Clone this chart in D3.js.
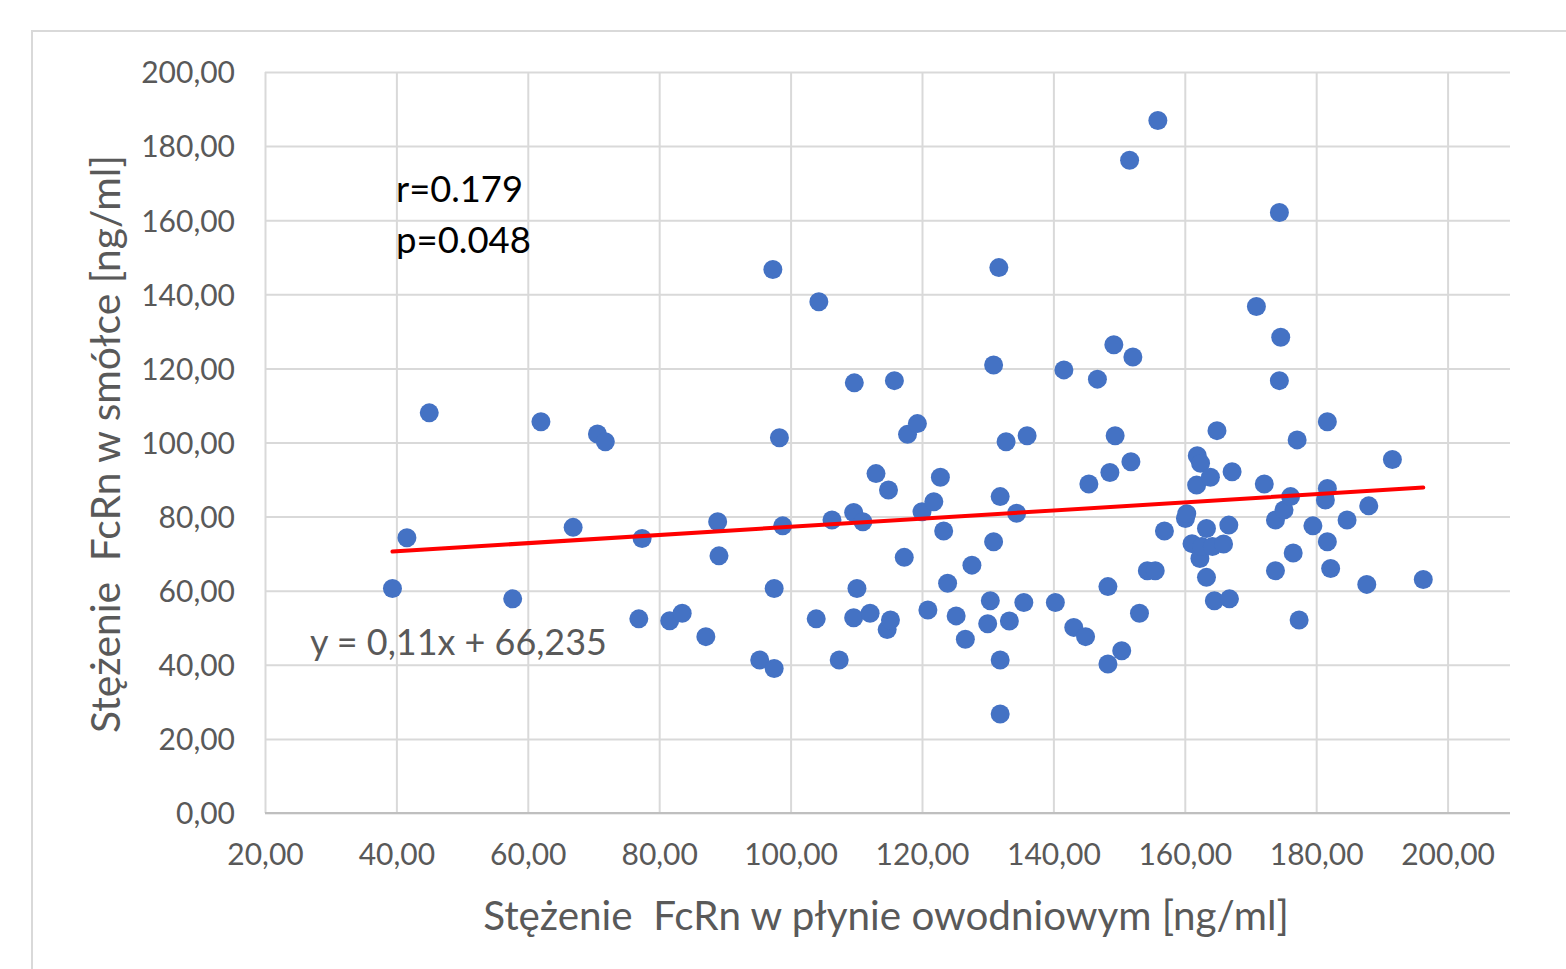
<!DOCTYPE html>
<html>
<head>
<meta charset="utf-8">
<script src="https://cdn.jsdelivr.net/npm/d3@7"></script>
<style>
  body { margin: 0; background: #fff; }
  svg { display: block; font-family: Lato, "Open Sans", sans-serif; }
</style>
</head>
<body>
<div id="chart"></div>
<script>
// FcRn in amniotic fluid (x) vs FcRn in meconium (y), ng/ml
const fluid = [
  39.4, 41.6, 45.0, 57.7, 62.0, 66.9, 70.6, 71.8, 76.9, 77.4,
  81.6, 83.5, 87.1, 88.9, 89.1, 95.3, 97.5, 97.3, 97.5, 98.3,
  98.8, 104.3, 103.9, 106.3, 107.4, 109.7, 109.6, 110.1, 109.6, 111.0,
  112.1, 113.0, 114.9, 114.7, 115.2, 115.8, 117.3, 117.8, 119.3, 120.0,
  120.9, 121.8, 122.8, 123.3, 123.9, 125.2, 126.6, 127.6, 130.9, 130.4,
  130.0, 130.9, 131.7, 131.9, 131.9, 131.9, 132.8, 133.3, 134.4, 135.5,
  136.0, 140.3, 141.6, 143.1, 144.9, 145.4, 146.7, 148.3, 148.3, 148.6,
  149.2, 149.4, 150.4, 151.6, 151.8, 152.1, 153.1, 154.3, 155.5, 155.9,
  156.9, 160.1, 160.3, 161.1, 161.8, 161.9, 162.4, 162.3, 162.6, 163.3,
  163.3, 163.9, 164.2, 164.5, 164.9, 165.9, 166.7, 166.8, 167.2, 170.9,
  172.1, 173.8, 173.8, 174.4, 174.4, 174.6, 175.1, 176.1, 176.5, 177.1,
  177.4, 179.5, 181.4, 181.7, 181.7, 181.7, 182.2, 184.7, 187.7, 188.0,
  191.6, 196.3
];
const meconium = [
  60.6, 74.3, 108.0, 57.8, 105.6, 77.1, 102.3, 100.2, 52.4, 74.1,
  51.9, 53.9, 47.6, 78.6, 69.4, 41.3, 39.0, 146.7, 60.6, 101.3,
  77.5, 138.0, 52.4, 79.1, 41.3, 116.1, 81.1, 60.6, 52.7, 78.6,
  53.9, 91.6, 87.2, 49.5, 52.1, 116.7, 69.0, 102.2, 105.1, 81.3,
  54.8, 84.0, 90.6, 76.1, 62.0, 53.2, 46.9, 66.9, 120.9, 57.3,
  51.1, 73.2, 147.2, 85.4, 41.3, 26.7, 100.2, 51.8, 80.9, 56.8,
  101.8, 56.8, 119.6, 50.1, 47.6, 88.8, 117.1, 40.2, 61.1, 91.9,
  126.4, 101.8, 43.8, 176.2, 94.8, 123.1, 53.9, 65.4, 65.4, 186.9,
  76.1, 79.5, 80.8, 72.7, 88.5, 96.4, 94.4, 68.7, 71.9, 76.8,
  63.6, 90.6, 71.9, 57.3, 103.2, 72.6, 77.7, 57.8, 92.1, 136.7,
  88.8, 79.1, 65.4, 162.1, 116.7, 128.4, 81.8, 85.4, 70.2, 100.7,
  52.1, 77.5, 84.5, 87.6, 105.6, 73.2, 66.0, 79.1, 61.7, 82.9,
  95.4, 63.0
];
const xTicks = [20, 40, 60, 80, 100, 120, 140, 160, 180, 200];
const yTicks = [0, 20, 40, 60, 80, 100, 120, 140, 160, 180, 200];
const slope = 0.11;
const intercept = 66.235;
const statLines = ['r=0.179', 'p=0.048'];

const width = 1566;
const height = 969;
const margin = { top: 72, right: 56, bottom: 156, left: 265 };

const fmt = d => d3.format('.2f')(d).replace('.', ',');
const gridColor = '#d9d9d9';
const textColor = '#595959';

const svg = d3
  .select('#chart')
  .append('svg')
  .attr('width', width)
  .attr('height', height);

// chart area frame (runs off the right/bottom edge like the source image)
svg
  .append('rect')
  .attr('x', 32)
  .attr('y', 31)
  .attr('width', width)
  .attr('height', height)
  .attr('fill', '#fff')
  .attr('stroke', gridColor)
  .attr('stroke-width', 2);

const x = d3
  .scaleLinear()
  .domain([20, 209.5])
  .range([margin.left, width - margin.right]);

const y = d3
  .scaleLinear()
  .domain([0, 200])
  .range([height - margin.bottom, margin.top]);

// gridlines
const xAxis = svg
  .append('g')
  .attr('transform', `translate(0,${y(0)})`)
  .call(
    d3
      .axisBottom(x)
      .tickValues(xTicks)
      .tickSize(-(y(0) - y(200)))
      .tickFormat(fmt)
      .tickPadding(31)
  );

const yAxis = svg
  .append('g')
  .attr('transform', `translate(${x(20)},0)`)
  .call(
    d3
      .axisLeft(y)
      .tickValues(yTicks)
      .tickSize(-(x(209.5) - x(20)))
      .tickFormat(fmt)
      .tickPadding(30)
  );

[xAxis, yAxis].forEach(function(ax) {
  ax.attr('font-family', null).attr('font-size', null);
  ax.select('.domain').remove();
  ax.selectAll('line').attr('stroke', gridColor).attr('stroke-width', 2);
  ax.selectAll('text')
    .attr('fill', textColor)
    .style('font-size', '30px');
});
yAxis.selectAll('text').attr('dy', '0.36em');

// bottom axis line a touch darker
svg
  .append('line')
  .attr('x1', x(20))
  .attr('x2', x(209.5))
  .attr('y1', y(0))
  .attr('y2', y(0))
  .attr('stroke', '#bfbfbf')
  .attr('stroke-width', 2);

// points
const points = fluid.map(function(v, i) {
  return { x: v, y: meconium[i] };
});

svg
  .append('g')
  .selectAll('circle')
  .data(points)
  .enter()
  .append('circle')
  .attr('cx', d => x(d.x))
  .attr('cy', d => y(d.y))
  .attr('r', 9.5)
  .attr('fill', '#4472c4');

// linear trend line
const xExtent = d3.extent(fluid);
svg
  .append('line')
  .attr('x1', x(xExtent[0]))
  .attr('y1', y(slope * xExtent[0] + intercept))
  .attr('x2', x(xExtent[1]))
  .attr('y2', y(slope * xExtent[1] + intercept))
  .attr('stroke', '#ff0000')
  .attr('stroke-width', 4)
  .attr('stroke-linecap', 'round');

// scale a text's font so it spans the given width
function fitWidth(sel, w) {
  const node = sel.node();
  const size = parseFloat(sel.style('font-size'));
  const len = node.getComputedTextLength();
  sel.style('font-size', `${(size * w) / len}px`);
}

// equation label
svg
  .append('text')
  .attr('x', 310)
  .attr('y', 655)
  .attr('fill', textColor)
  .style('font-size', '32px')
  .text(`y = ${String(slope).replace('.', ',')}x + ${String(intercept).replace('.', ',')}`)
  .call(fitWidth, 297);

// r / p annotation
svg
  .append('g')
  .selectAll('text')
  .data(statLines)
  .enter()
  .append('text')
  .attr('x', 396)
  .attr('y', (d, i) => 202 + i * 51)
  .attr('fill', '#000')
  .style('font-size', '33px')
  .text(d => d)
  .each(function(d, i) {
    d3.select(this).call(fitWidth, i === 0 ? 127 : 135);
  });

// axis titles
svg
  .append('text')
  .attr('x', 886)
  .attr('y', 930)
  .attr('text-anchor', 'middle')
  .attr('fill', textColor)
  .style('white-space', 'pre')
  .style('font-size', '35px')
  .text('Stężenie  FcRn w płynie owodniowym [ng/ml]')
  .call(fitWidth, 806);

svg
  .append('text')
  .attr('transform', 'translate(120,444) rotate(-90)')
  .attr('text-anchor', 'middle')
  .attr('fill', textColor)
  .style('white-space', 'pre')
  .style('font-size', '35px')
  .text('Stężenie  FcRn w smółce [ng/ml]')
  .call(fitWidth, 578);
</script>
</body>
</html>
